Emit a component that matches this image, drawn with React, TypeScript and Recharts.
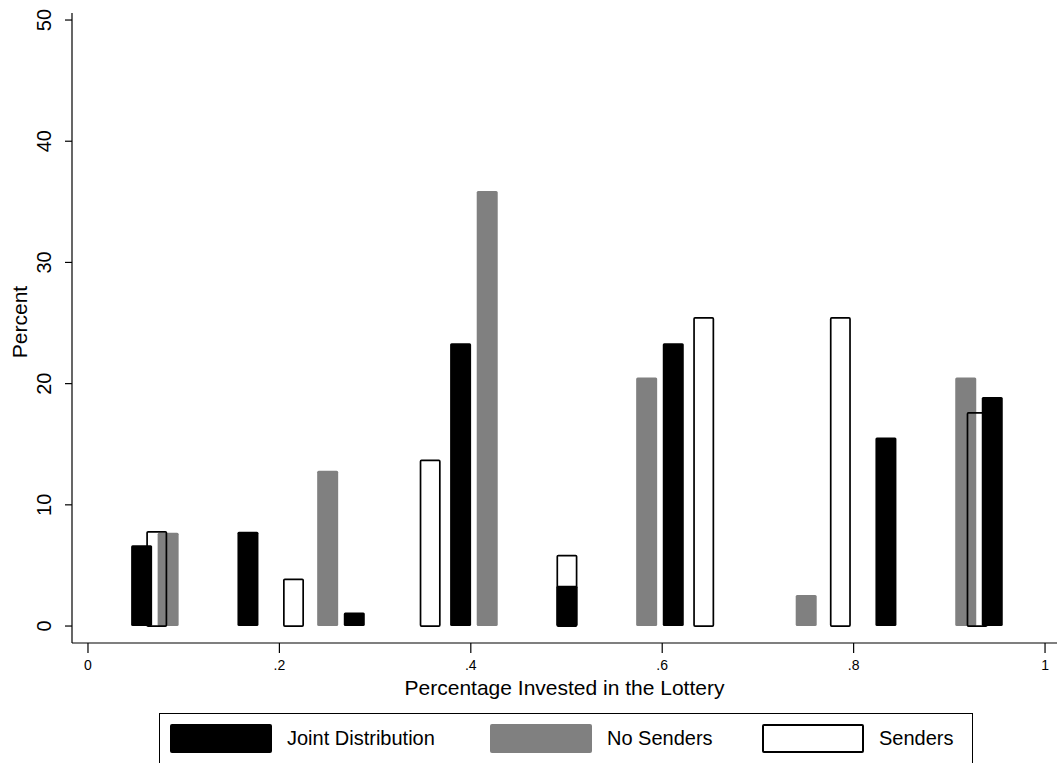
import React from 'react';
import { ComposedChart, Bar, XAxis, YAxis, Label } from 'recharts';

// bin midpoints and percent of subjects in each bin
const jointMids = [0.0556, 0.1667, 0.2778, 0.3889, 0.5, 0.6111, 0.7222, 0.8333, 0.9444];
const jointPct = [6.67, 7.78, 1.11, 23.33, 3.33, 23.33, 0, 15.56, 18.89];

const noSendersMids = [0.0833, 0.25, 0.4167, 0.5833, 0.75, 0.9167];
const noSendersPct = [7.69, 12.82, 35.9, 20.51, 2.56, 20.51];

const sendersMids = [0.0714, 0.2143, 0.3571, 0.5, 0.6429, 0.7857, 0.9286];
const sendersPct = [7.84, 3.92, 13.73, 5.88, 25.49, 25.49, 17.65];

const xTicks = [0, 0.2, 0.4, 0.6, 0.8, 1];
const yTicks = [0, 10, 20, 30, 40, 50];

const seriesNames = ['Joint Distribution', 'No Senders', 'Senders'];

const FONT = '"Liberation Sans", Arial, Helvetica, sans-serif';
const BAR_W = 21;

type Row = { x: number; joint?: number; noSenders?: number; senders?: number };

function buildRows(): Row[] {
  const byX = new Map<number, Row>();
  const add = (mids: number[], vals: number[], key: 'joint' | 'noSenders' | 'senders') => {
    mids.forEach((m, i) => {
      const row = byX.get(m) ?? { x: m };
      row[key] = vals[i];
      byX.set(m, row);
    });
  };
  add(jointMids, jointPct, 'joint');
  add(noSendersMids, noSendersPct, 'noSenders');
  add(sendersMids, sendersPct, 'senders');
  return [...byX.values()].sort((a, b) => a.x - b.x);
}

const rows = buildRows();

// fixed-width bar centred on the slot recharts computes
const barShape = (fill: string, outlined: boolean) => (props: any) => {
  const { x, y, width, height } = props;
  if (![x, y, width, height].every(Number.isFinite) || Math.abs(height) < 0.01) return <g />;
  const top = height >= 0 ? y : y + height;
  const h = Math.abs(height);
  const cx = x + width / 2;
  if (outlined) {
    const sw = 1.7;
    return (
      <rect
        x={cx - BAR_W / 2 + sw / 2}
        y={top + sw / 2}
        width={BAR_W - sw}
        height={h - sw / 2}
        fill="none"
        stroke="#000"
        strokeWidth={sw}
        rx={1}
      />
    );
  }
  return <rect x={cx - BAR_W / 2} y={top} width={BAR_W} height={h} fill={fill} rx={1.5} />;
};

const YTick = (props: any) => {
  const { x, y, payload } = props;
  return (
    <text
      x={x}
      y={y}
      transform={`rotate(-90, ${x}, ${y})`}
      textAnchor="middle"
      fontSize={20}
      fontFamily={FONT}
      fill="#000"
    >
      {payload.value}
    </text>
  );
};

const YTitle = (props: any) => {
  const { viewBox } = props;
  const bx = viewBox.x + 15;
  const by = viewBox.y + viewBox.height / 2 - 6;
  return (
    <text
      x={bx}
      y={by}
      transform={`rotate(-90, ${bx}, ${by})`}
      textAnchor="middle"
      fontSize={21}
      fontFamily={FONT}
      fill="#000"
    >
      Percent
    </text>
  );
};

const xDomain: [number, number] = [-0.0167, 1.0125];

const legendSwatches = [
  { background: '#000', border: 'none' },
  { background: '#808080', border: 'none' },
  { background: '#fff', border: '2px solid #000' },
];
const legendItemWidths = [320, 272, 200];

export default function App() {
  return (
    <div style={{ position: 'absolute', left: 0, top: 0, width: 1057, height: 763, background: '#fff', overflow: 'hidden' }}>
      <ComposedChart
        width={1057}
        height={703}
        data={rows}
        margin={{ top: 13, right: 0, bottom: 0, left: 12 }}
      >
        <XAxis
          xAxisId="j"
          type="number"
          dataKey="x"
          domain={xDomain}
          allowDataOverflow
          ticks={xTicks}
          tickFormatter={(v: number) => (v === 0 || v === 1 ? String(v) : String(v).replace(/^0/, ''))}
          tickSize={10}
          tickMargin={7}
          height={60}
          axisLine={{ stroke: '#000', strokeWidth: 1.2 }}
          tickLine={{ stroke: '#000', strokeWidth: 1.2 }}
          tick={{ fontSize: 14, fontFamily: FONT, fill: '#000' }}
        >
          <Label
            value="Percentage Invested in the Lottery"
            position="insideBottom"
            offset={8}
            style={{ fontSize: 21, fontFamily: FONT, fill: '#000' }}
          />
        </XAxis>
        <XAxis xAxisId="ns" type="number" dataKey="x" domain={xDomain} allowDataOverflow hide />
        <XAxis xAxisId="s" type="number" dataKey="x" domain={xDomain} allowDataOverflow hide />
        <YAxis
          type="number"
          domain={[-1.4, 50.58]}
          allowDataOverflow
          ticks={yTicks}
          width={60}
          tickSize={7}
          tickMargin={14}
          axisLine={{ stroke: '#000', strokeWidth: 1.2 }}
          tickLine={{ stroke: '#000', strokeWidth: 1.2 }}
          tick={<YTick />}
        >
          <Label content={<YTitle />} />
        </YAxis>
        <Bar
          xAxisId="ns"
          dataKey="noSenders"
          name={seriesNames[1]}
          fill="#808080"
          barSize={BAR_W}
          shape={barShape('#808080', false)}
          isAnimationActive={false}
        />
        <Bar
          xAxisId="s"
          dataKey="senders"
          name={seriesNames[2]}
          fill="none"
          barSize={BAR_W}
          shape={barShape('none', true)}
          isAnimationActive={false}
        />
        <Bar
          xAxisId="j"
          dataKey="joint"
          name={seriesNames[0]}
          fill="#000"
          barSize={BAR_W}
          shape={barShape('#000', false)}
          isAnimationActive={false}
        />
      </ComposedChart>
      <div
        style={{
          position: 'absolute',
          left: 159,
          top: 713,
          width: 814,
          height: 64,
          border: '1px solid #000',
          boxSizing: 'border-box',
          display: 'flex',
          paddingTop: 10,
          paddingLeft: 10,
          fontFamily: FONT,
          fontSize: 20,
          color: '#000',
        }}
      >
        {seriesNames.map((name, i) => (
          <div key={name} style={{ display: 'flex', alignItems: 'center', height: 29, width: legendItemWidths[i] }}>
            <div
              style={{
                width: 102,
                height: 29,
                boxSizing: 'border-box',
                borderRadius: 2,
                ...legendSwatches[i],
              }}
            />
            <span style={{ marginLeft: 15 }}>{name}</span>
          </div>
        ))}
      </div>
    </div>
  );
}
